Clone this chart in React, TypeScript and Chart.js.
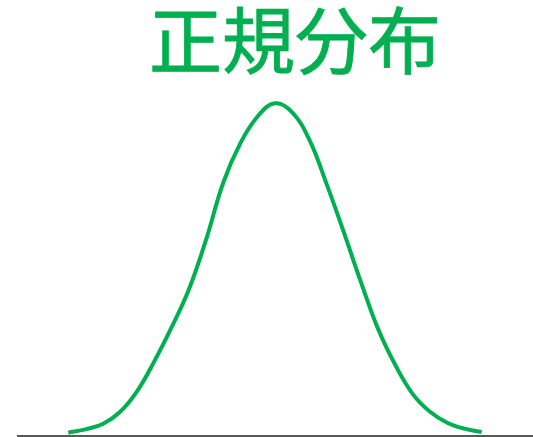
import React, { useEffect, useRef } from "react";
import { Chart, registerables } from "chart.js";

Chart.register(...registerables);

const titleText = "正規分布";
const xValues = [-3.0, -2.75, -2.5, -2.25, -2.0, -1.75, -1.5, -1.25, -1.0, -0.75, -0.5, -0.25, 0.0, 0.25, 0.5, 0.75, 1.0, 1.25, 1.5, 1.75, 2.0, 2.25, 2.5, 2.75, 3.0];
const yValues = [0.01, 0.02, 0.036, 0.072, 0.135, 0.225, 0.327, 0.44, 0.59, 0.762, 0.881, 0.961, 1.0, 0.973, 0.89, 0.757, 0.612, 0.461, 0.32, 0.212, 0.126, 0.073, 0.04, 0.022, 0.012];

const GREEN = "#00B050";

const titlePlugin = {
  id: "customTitle",
  afterDraw(chart: any) {
    const ctx = chart.ctx;
    ctx.save();
    ctx.font = "400 73px 'Noto Sans CJK JP', 'Noto Sans CJK SC', sans-serif";
    ctx.fillStyle = GREEN;
    ctx.strokeStyle = GREEN;
    ctx.lineWidth = 0.8;
    ctx.textAlign = "center";
    ctx.textBaseline = "middle";
    ctx.fillText(titleText, 295, 40);
    ctx.strokeText(titleText, 295, 40);
    ctx.restore();
  },
};

export default function App() {
  const ref = useRef<HTMLCanvasElement>(null);
  useEffect(() => {
    if (!ref.current) return;
    const chart = new Chart(ref.current, {
      type: "line",
      data: {
        datasets: [
          {
            data: xValues.map((x, i) => ({ x, y: yValues[i] })),
            borderColor: GREEN,
            borderWidth: 4,
            pointRadius: 0,
            tension: 0.4,
            fill: false,
          },
        ],
      },
      options: {
        animation: false,
        responsive: false,
        layout: { padding: { top: 80, left: 18, right: 0, bottom: 1 } },
        plugins: { legend: { display: false }, tooltip: { enabled: false }, title: { display: false } },
        scales: {
          x: {
            type: "linear",
            min: -3.73,
            max: 3.745,
            grid: { display: false, drawTicks: false },
            border: { display: true, color: "#595959", width: 2 },
            ticks: { display: false },
          },
          y: {
            display: false,
            min: 0,
            max: 1.07,
          },
        },
      },
      plugins: [titlePlugin],
    } as any);
    return () => chart.destroy();
  }, []);
  return (
    <>
      <style>{`html,body{margin:0;padding:0;overflow:hidden;}`}</style>
      <canvas ref={ref} width={533} height={437} style={{ display: "block" }} />
    </>
  );
}
